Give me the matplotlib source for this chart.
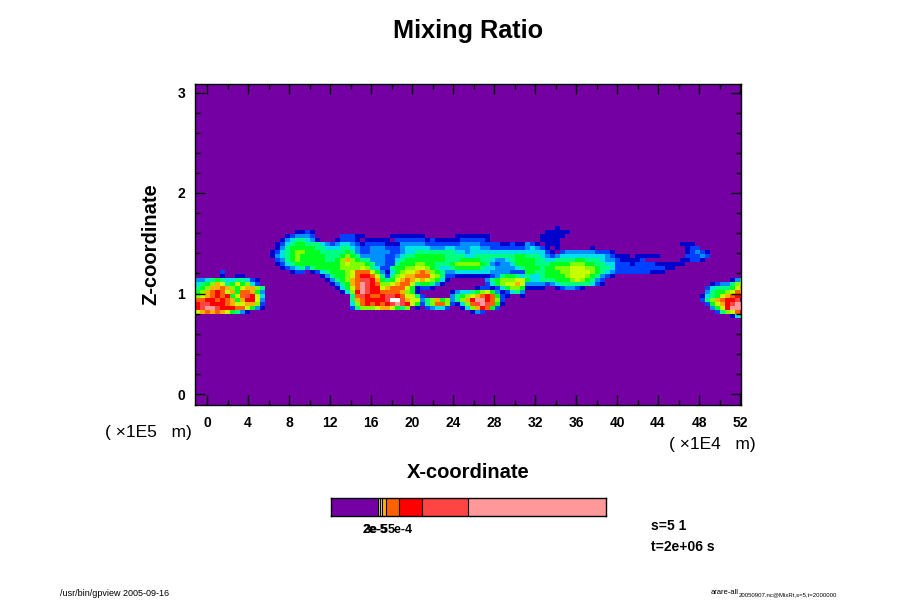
import numpy as np
import matplotlib
matplotlib.use("Agg")
import matplotlib.pyplot as plt
from matplotlib.colors import ListedColormap, BoundaryNorm
from matplotlib.ticker import MultipleLocator

plt.rcParams['font.family'] = ['Liberation Sans', 'DejaVu Sans']

# Mixing-ratio tone class per grid cell (one string per row, top to bottom)
panel_a = [
"", "",
"0000000000000000000011",
"0000000000000000001233",
"0000000000000000013455",
"0000000000000000124566",
"0000000000000000135666",
"0000000000000001245677",
"0000000000000001345676",
"0000000000000000235676",
"0000000000000000124566",
"0000000000000000012345",
"0000020000000000000122",
"0000010011",
"3345654455421",
"4567985686742",
"56799a97689975",
"679aba896aa963",
"789abab68acb84",
"aabbaba969bb83",
"bccbbba9889972",
"bcddcbbbaa8631",
"89a9a986531",
"",
"",
]
panel_b = [
"", "",
"21",
"3200000222110000011111",
"4310001222101111102222",
"5554323443212222111333",
"6655444554322333222344",
"6665555565322333322344",
"6666555676533333223455",
"6666556797655333224566",
"6666666787776533225666",
"3566666777787542256677",
"0124566678aaa863146788",
"0001356678abba85257899",
"0000135679accb965689a9",
"0000013569adcba7789aa8",
"0000001468adcbb89aaa86",
"0000000147bdcbbaaaa976",
"0000000005acbaabccba88",
"00000000059abbbbceec98",
"00000000047abababcdcb8",
"000000000257778998657",
"", "", "",
]
panel_c = [
"", "", "",
"110000001111111",
"221211111222221",
"3322222223333222211211",
"4443334433344332222222",
"5555555544344444444444",
"6666665555445555555566",
"6666665556666554334566",
"7766555677777653233466",
"8876544566666544333345",
"9a97653344444443333222",
"aaa8752211111112356654",
"8987641000000035677788",
"5665310000000024678898",
"1221000000001221246776",
"1000000134456786312453",
"5200000356789aba621001",
"83579673579bddba72",
"6257aa72147acdca61",
"1023442001479ba620",
"00000000000132",
"", "",
]
panel_d = [
"",
"0000001",
"000011111",
"00011111",
"0001111",
"3210111",
"34321010000001",
"4444210233333322210000",
"5554323444444444321110",
"6655445555665554332111",
"6655566667776655442221",
"6665667778887765542222",
"6655666778888765432222",
"5445666678887653210000",
"6445556667876532000000",
"3333234555555421000000",
"111100123321",
"", "", "", "", "", "", "", "",
]
panel_e = [
"", "", "", "", "",
"000000000111",
"0000000000122",
"000000000012321",
"111110000022232",
"12000000011221",
"2222111111",
"22222211",
"222111",
"",
"0000000000000000000135",
"0000000000000001233578",
"0000000000000024555689",
"00000000000000356678a9",
"0000000000000145689abb",
"00000000000002579abbc",
"000000000000002689bcdd",
"000000000000000368bddd",
"00000000000000002578ab",
"0000000000000000000145",
"",
]
panels = [panel_a, panel_b, panel_c, panel_d, panel_e]

level_colors = ["#7400A4", "#0000CC", "#0040FF", "#0090FF", "#00E0E8", "#00FF80",
                "#00FF20", "#80FF00", "#C8FF00", "#FFB000", "#FF6000", "#FF0000",
                "#FF4444", "#FF9999", "#FFFFFF"]

x_ticks = list(range(0, 53, 4))
y_ticks = [0, 1, 2, 3]

bar_edges = [0, 47, 49, 51, 55, 68, 91, 137, 275]
bar_colors = ["#7400A4", "#C8FF00", "#FFE000", "#FFB000", "#FF6000", "#FF0000", "#FF4444", "#FF9999"]
bar_tick_pos = [44.5, 45.5, 69]
bar_tick_labels = ["2e-5", "3e-5", "5e-4"]

rows = []
for r in range(25):
    row = "".join(p[r].replace(" ", "").ljust(22, "0")[:22] for p in panels)
    rows.append([int(ch, 16) for ch in row])
Z = np.array(rows, dtype=float)

W, H = 900, 600
fig = plt.figure(figsize=(9, 6), dpi=100, facecolor="white")
ax = fig.add_axes([195 / W, 1 - 405 / H, 546 / W, 321 / H], facecolor=level_colors[0])
xmin, xmax = (195 - 207) / 10.25, (741 - 207) / 10.25
ymin, ymax = (394 - 405) / 100.5, (394 - 84) / 100.5
x_edges = (195 + 5 * np.arange(Z.shape[1] + 1) - 207) / 10.25
y_edges = (394 - (222 + 4 * np.arange(Z.shape[0] + 1))) / 100.5
cmap = ListedColormap(level_colors)
norm = BoundaryNorm(np.arange(-0.5, 15), cmap.N)
ax.pcolormesh(x_edges, y_edges, Z, cmap=cmap, norm=norm, edgecolors="none", antialiased=False)
ax.set_xlim(xmin, xmax)
ax.set_ylim(ymin, ymax)
ax.set_xticks(x_ticks)
ax.set_yticks(y_ticks)
ax.xaxis.set_minor_locator(MultipleLocator(2))
ax.yaxis.set_minor_locator(MultipleLocator(0.2))
ax.tick_params(which="major", direction="in", length=7, width=1, top=True, right=True, pad=8)
ax.tick_params(which="minor", direction="in", length=3.5, width=1, top=True, right=True)
ax.tick_params(axis="y", which="major", pad=7)
for lab in ax.get_xticklabels() + ax.get_yticklabels():
    lab.set_fontweight("bold")
    lab.set_fontsize(10)
for s in ax.spines.values():
    s.set_linewidth(1)


def T(px, py, s, **kw):
    fig.text(px / W, 1 - py / H, s, **kw)


T(468.5, 31, "Mixing Ratio", ha="center", va="center", fontsize=18.2, fontweight="bold")
T(468.5, 473, "X-coordinate", ha="center", va="center", fontsize=14.5, fontweight="bold")
T(151, 244.5, "Z-coordinate", ha="center", va="center", rotation=90, fontsize=14.5, fontweight="bold")
T(105, 433, "( \u00d71E5   m)", ha="left", va="center", fontsize=12.5)
T(669, 445, "( \u00d71E4   m)", ha="left", va="center", fontsize=12.5)
T(651, 526, "s=5 1", ha="left", va="center", fontsize=10, fontweight="bold")
T(651, 547, "t=2e+06 s", ha="left", va="center", fontsize=10, fontweight="bold")
T(60, 593, "/usr/bin/gpview 2005-09-16", ha="left", va="center", fontsize=6.5)
T(711, 593, "arare-all", ha="left", va="center", fontsize=5.5)
T(738.5, 594.5, "20050907.nc@MixRt,s=5,t=2000000", ha="left", va="center", fontsize=4.3)

cax = fig.add_axes([331 / W, 1 - 516 / H, 275 / W, 18 / H])
cax.pcolormesh(bar_edges, [0, 1], np.arange(len(bar_colors)).reshape(1, -1),
               cmap=ListedColormap(bar_colors), edgecolors="none")
cax.vlines(bar_edges[1:-1], 0, 1, colors="black", linewidth=0.8)
cax.set_xlim(bar_edges[0], bar_edges[-1])
cax.set_ylim(0, 1)
cax.set_yticks([])
cax.set_xticks(bar_tick_pos)
cax.set_xticklabels(bar_tick_labels, fontweight="bold", fontsize=9)
cax.tick_params(axis="x", length=0, pad=6)
for s in cax.spines.values():
    s.set_linewidth(1)

fig.savefig("out.png", dpi=100)
